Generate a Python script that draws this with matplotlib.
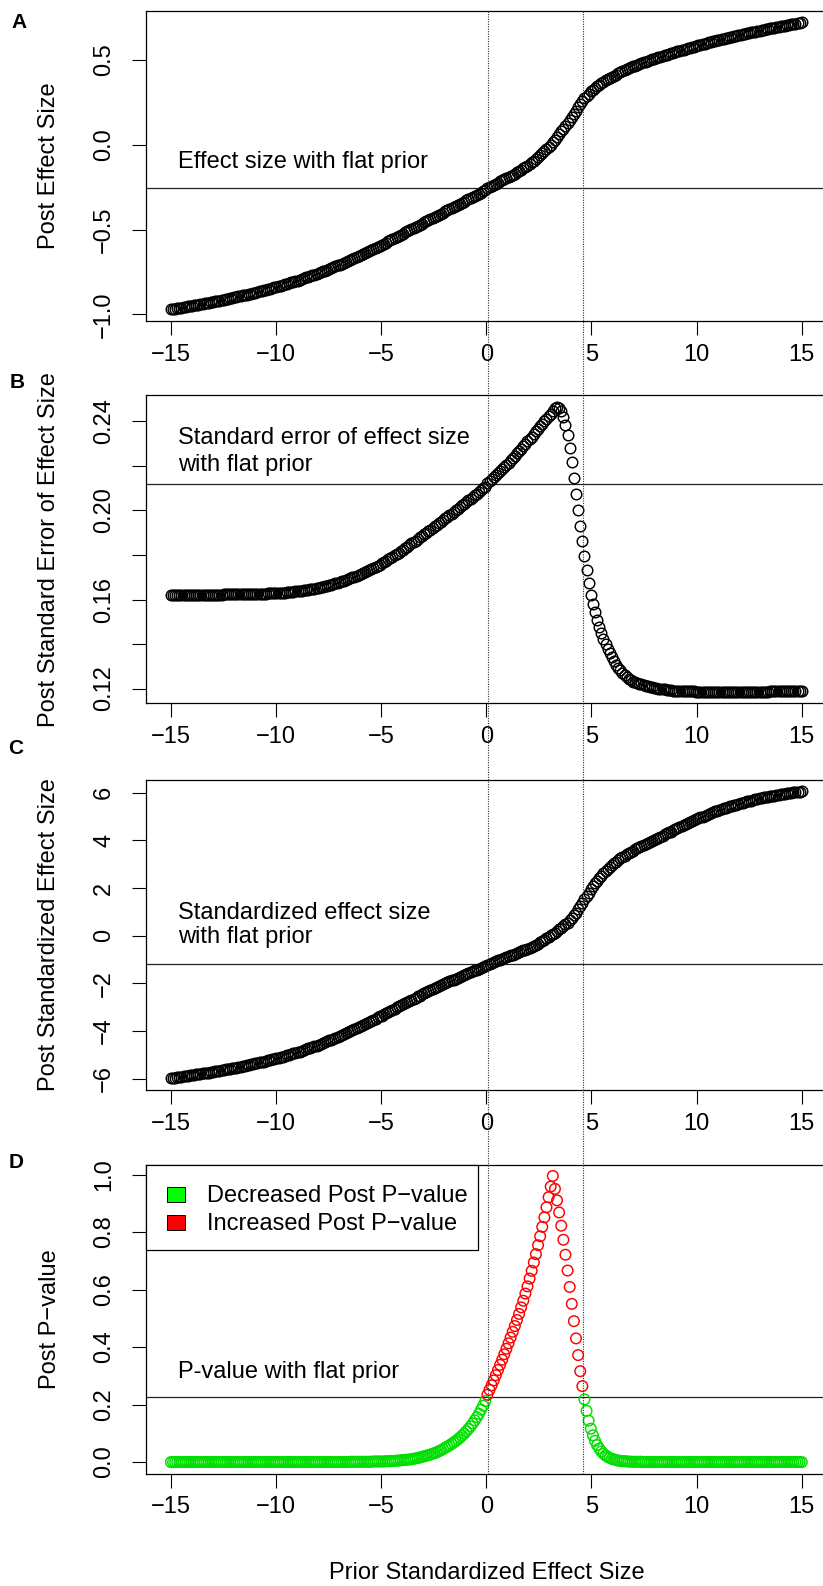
import matplotlib.pyplot as plt
import numpy as np
from matplotlib import transforms
from matplotlib.lines import Line2D
from matplotlib.patches import Rectangle

plt.rcParams['font.family'] = ['Liberation Sans', 'DejaVu Sans']

# prior standardized effect size: 300 points from -15 to 15
prior_z = np.linspace(-15, 15, 300)

# values, one row per unit of prior
post_effect = [
    -0.970, -0.968, -0.966, -0.964, -0.962, -0.960, -0.957, -0.955, -0.953, -0.951,
    -0.949, -0.947, -0.944, -0.942, -0.940, -0.938, -0.935, -0.933, -0.931, -0.928,
    -0.926, -0.923, -0.921, -0.918, -0.916, -0.913, -0.910, -0.908, -0.905, -0.903,
    -0.900, -0.897, -0.894, -0.891, -0.888, -0.886, -0.883, -0.880, -0.877, -0.874,
    -0.871, -0.868, -0.864, -0.861, -0.858, -0.855, -0.851, -0.848, -0.845, -0.841,
    -0.838, -0.834, -0.830, -0.827, -0.823, -0.819, -0.815, -0.811, -0.808, -0.804,
    -0.800, -0.796, -0.791, -0.787, -0.782, -0.778, -0.774, -0.769, -0.765, -0.760,
    -0.756, -0.751, -0.746, -0.741, -0.736, -0.731, -0.726, -0.721, -0.716, -0.711,
    -0.706, -0.700, -0.695, -0.689, -0.684, -0.678, -0.672, -0.667, -0.661, -0.656,
    -0.650, -0.644, -0.638, -0.632, -0.626, -0.620, -0.613, -0.607, -0.601, -0.595,
    -0.589, -0.582, -0.576, -0.569, -0.563, -0.556, -0.549, -0.543, -0.536, -0.530,
    -0.523, -0.516, -0.510, -0.503, -0.497, -0.490, -0.483, -0.477, -0.470, -0.464,
    -0.457, -0.451, -0.444, -0.438, -0.431, -0.425, -0.418, -0.412, -0.405, -0.399,
    -0.392, -0.386, -0.379, -0.373, -0.366, -0.360, -0.353, -0.347, -0.340, -0.334,
    -0.327, -0.321, -0.314, -0.308, -0.301, -0.295, -0.288, -0.282, -0.275, -0.269,
    -0.255, -0.249, -0.242, -0.236, -0.229, -0.222, -0.216, -0.209, -0.203,
    -0.196, -0.190, -0.183, -0.176, -0.169, -0.162, -0.154, -0.147, -0.139, -0.130,
    -0.122, -0.113, -0.103, -0.094, -0.084, -0.073, -0.062, -0.050, -0.038, -0.026,
    -0.013, 0.001, 0.016, 0.031, 0.047, 0.063, 0.079, 0.095, 0.112, 0.129,
    0.146, 0.164, 0.183, 0.202, 0.221, 0.240, 0.258, 0.275, 0.290, 0.303,
    0.315, 0.326, 0.336, 0.346, 0.355, 0.364, 0.372, 0.380, 0.387, 0.394,
    0.401, 0.408, 0.415, 0.422, 0.428, 0.434, 0.440, 0.446, 0.452, 0.458,
    0.463, 0.468, 0.472, 0.477, 0.481, 0.486, 0.490, 0.495, 0.499, 0.504,
    0.508, 0.512, 0.516, 0.520, 0.524, 0.528, 0.532, 0.535, 0.539, 0.543,
    0.547, 0.551, 0.554, 0.558, 0.562, 0.566, 0.569, 0.573, 0.577, 0.580,
    0.584, 0.587, 0.591, 0.594, 0.597, 0.601, 0.604, 0.607, 0.610, 0.614,
    0.617, 0.620, 0.623, 0.626, 0.629, 0.632, 0.634, 0.637, 0.640, 0.643,
    0.646, 0.649, 0.652, 0.654, 0.657, 0.660, 0.663, 0.666, 0.668, 0.671,
    0.674, 0.677, 0.679, 0.682, 0.684, 0.687, 0.689, 0.692, 0.694, 0.697,
    0.699, 0.701, 0.704, 0.706, 0.708, 0.711, 0.713, 0.715, 0.717, 0.720,
    0.722,
]

post_se = [
    0.1621, 0.1621, 0.1621, 0.1621, 0.1621, 0.1621, 0.1621, 0.1621, 0.1621, 0.1621,
    0.1621, 0.1621, 0.1621, 0.1621, 0.1621, 0.1622, 0.1622, 0.1622, 0.1622, 0.1622,
    0.1622, 0.1622, 0.1622, 0.1622, 0.1622, 0.1623, 0.1623, 0.1623, 0.1623, 0.1623,
    0.1623, 0.1623, 0.1623, 0.1624, 0.1624, 0.1624, 0.1624, 0.1624, 0.1625, 0.1625,
    0.1625, 0.1625, 0.1626, 0.1626, 0.1626, 0.1626, 0.1627, 0.1627, 0.1627, 0.1628,
    0.1628, 0.1629, 0.1629, 0.1630, 0.1631, 0.1632, 0.1633, 0.1634, 0.1635, 0.1636,
    0.1637, 0.1638, 0.1640, 0.1641, 0.1643, 0.1644, 0.1646, 0.1648, 0.1649, 0.1651,
    0.1653, 0.1655, 0.1657, 0.1660, 0.1662, 0.1665, 0.1667, 0.1670, 0.1672, 0.1675,
    0.1678, 0.1681, 0.1685, 0.1688, 0.1692, 0.1695, 0.1699, 0.1703, 0.1706, 0.1710,
    0.1714, 0.1718, 0.1723, 0.1728, 0.1733, 0.1738, 0.1743, 0.1748, 0.1752, 0.1757,
    0.1762, 0.1768, 0.1774, 0.1780, 0.1786, 0.1793, 0.1799, 0.1805, 0.1811, 0.1818,
    0.1824, 0.1831, 0.1838, 0.1845, 0.1852, 0.1858, 0.1865, 0.1872, 0.1879, 0.1886,
    0.1893, 0.1900, 0.1907, 0.1914, 0.1921, 0.1928, 0.1936, 0.1943, 0.1950, 0.1957,
    0.1964, 0.1971, 0.1979, 0.1986, 0.1994, 0.2001, 0.2008, 0.2016, 0.2023, 0.2031,
    0.2038, 0.2046, 0.2053, 0.2061, 0.2068, 0.2076, 0.2084, 0.2091, 0.2099, 0.2106,
    0.2123, 0.2132, 0.2141, 0.2149, 0.2158, 0.2167, 0.2177, 0.2186, 0.2196,
    0.2205, 0.2215, 0.2225, 0.2236, 0.2246, 0.2256, 0.2267, 0.2278, 0.2288, 0.2299,
    0.2310, 0.2321, 0.2332, 0.2344, 0.2355, 0.2366, 0.2378, 0.2389, 0.2401, 0.2412,
    0.2424, 0.2435, 0.2447, 0.2458, 0.2466, 0.2461, 0.2445, 0.2418, 0.2382, 0.2337,
    0.2282, 0.2218, 0.2148, 0.2076, 0.2004, 0.1932, 0.1862, 0.1795, 0.1732, 0.1674,
    0.1622, 0.1580, 0.1543, 0.1509, 0.1478, 0.1450, 0.1424, 0.1400, 0.1378, 0.1358,
    0.1340, 0.1323, 0.1308, 0.1294, 0.1282, 0.1271, 0.1261, 0.1252, 0.1244, 0.1237,
    0.1231, 0.1228, 0.1225, 0.1222, 0.1219, 0.1216, 0.1213, 0.1210, 0.1207, 0.1205,
    0.1202, 0.1201, 0.1199, 0.1198, 0.1197, 0.1196, 0.1195, 0.1193, 0.1192, 0.1191,
    0.1190, 0.1190, 0.1189, 0.1189, 0.1189, 0.1188, 0.1188, 0.1187, 0.1187, 0.1187,
    0.1186, 0.1186, 0.1186, 0.1186, 0.1186, 0.1186, 0.1186, 0.1185, 0.1185, 0.1185,
    0.1185, 0.1185, 0.1185, 0.1185, 0.1185, 0.1185, 0.1185, 0.1185, 0.1185, 0.1185,
    0.1185, 0.1185, 0.1185, 0.1185, 0.1185, 0.1186, 0.1186, 0.1186, 0.1186, 0.1186,
    0.1186, 0.1186, 0.1186, 0.1186, 0.1186, 0.1187, 0.1187, 0.1187, 0.1187, 0.1187,
    0.1187, 0.1187, 0.1187, 0.1187, 0.1187, 0.1188, 0.1188, 0.1188, 0.1188, 0.1188,
    0.1188,
]

post_z = [
    -5.98, -5.97, -5.95, -5.94, -5.93, -5.92, -5.90, -5.89, -5.88, -5.86,
    -5.85, -5.84, -5.82, -5.81, -5.79, -5.78, -5.77, -5.75, -5.74, -5.72,
    -5.71, -5.69, -5.68, -5.66, -5.64, -5.63, -5.61, -5.59, -5.58, -5.56,
    -5.55, -5.53, -5.51, -5.49, -5.47, -5.45, -5.43, -5.42, -5.40, -5.38,
    -5.36, -5.34, -5.32, -5.30, -5.28, -5.26, -5.23, -5.21, -5.19, -5.17,
    -5.15, -5.12, -5.10, -5.07, -5.05, -5.02, -4.99, -4.97, -4.94, -4.92,
    -4.89, -4.86, -4.83, -4.80, -4.76, -4.73, -4.70, -4.67, -4.64, -4.61,
    -4.58, -4.54, -4.50, -4.47, -4.43, -4.39, -4.36, -4.32, -4.28, -4.25,
    -4.21, -4.17, -4.13, -4.08, -4.04, -4.00, -3.96, -3.92, -3.87, -3.83,
    -3.79, -3.75, -3.70, -3.66, -3.61, -3.57, -3.52, -3.48, -3.43, -3.39,
    -3.35, -3.30, -3.25, -3.20, -3.16, -3.11, -3.06, -3.01, -2.97, -2.92,
    -2.87, -2.82, -2.78, -2.73, -2.69, -2.64, -2.60, -2.55, -2.51, -2.46,
    -2.42, -2.37, -2.33, -2.29, -2.25, -2.21, -2.17, -2.12, -2.08, -2.04,
    -2.00, -1.96, -1.92, -1.88, -1.84, -1.80, -1.76, -1.72, -1.68, -1.64,
    -1.61, -1.57, -1.53, -1.50, -1.46, -1.42, -1.39, -1.35, -1.31, -1.28,
    -1.21, -1.17, -1.14, -1.10, -1.07, -1.03, -1.00, -0.96, -0.93,
    -0.89, -0.86, -0.82, -0.79, -0.75, -0.72, -0.68, -0.65, -0.61, -0.58,
    -0.55, -0.51, -0.47, -0.43, -0.38, -0.33, -0.28, -0.23, -0.18, -0.11,
    -0.05, 0.01, 0.07, 0.13, 0.20, 0.26, 0.33, 0.40, 0.47, 0.55,
    0.64, 0.74, 0.85, 0.97, 1.10, 1.24, 1.39, 1.53, 1.67, 1.81,
    1.95, 2.07, 2.19, 2.30, 2.41, 2.52, 2.62, 2.71, 2.80, 2.89,
    2.97, 3.04, 3.11, 3.18, 3.24, 3.30, 3.36, 3.41, 3.47, 3.52,
    3.57, 3.62, 3.66, 3.71, 3.75, 3.80, 3.84, 3.89, 3.93, 3.98,
    4.02, 4.07, 4.11, 4.16, 4.20, 4.25, 4.29, 4.33, 4.37, 4.42,
    4.46, 4.50, 4.54, 4.59, 4.63, 4.67, 4.71, 4.75, 4.80, 4.84,
    4.88, 4.92, 4.96, 4.99, 5.03, 5.07, 5.10, 5.14, 5.17, 5.21,
    5.24, 5.27, 5.31, 5.34, 5.37, 5.40, 5.43, 5.45, 5.48, 5.50,
    5.53, 5.55, 5.58, 5.60, 5.63, 5.65, 5.67, 5.69, 5.72, 5.74,
    5.76, 5.78, 5.80, 5.81, 5.83, 5.85, 5.87, 5.88, 5.90, 5.91,
    5.93, 5.94, 5.96, 5.97, 5.99, 6.00, 6.01, 6.02, 6.03, 6.04,
    6.05,
]

post_p = [
    0.000, 0.000, 0.000, 0.000, 0.000, 0.000, 0.000, 0.000, 0.000, 0.000,
    0.000, 0.000, 0.000, 0.000, 0.000, 0.000, 0.000, 0.000, 0.000, 0.000,
    0.000, 0.000, 0.000, 0.000, 0.000, 0.000, 0.000, 0.000, 0.000, 0.000,
    0.000, 0.000, 0.000, 0.000, 0.000, 0.000, 0.000, 0.000, 0.000, 0.000,
    0.000, 0.000, 0.000, 0.000, 0.000, 0.000, 0.000, 0.000, 0.000, 0.000,
    0.000, 0.000, 0.000, 0.000, 0.000, 0.000, 0.000, 0.000, 0.000, 0.000,
    0.000, 0.000, 0.000, 0.000, 0.000, 0.000, 0.000, 0.000, 0.000, 0.000,
    0.000, 0.000, 0.000, 0.000, 0.000, 0.000, 0.000, 0.000, 0.000, 0.000,
    0.000, 0.000, 0.000, 0.000, 0.000, 0.001, 0.001, 0.001, 0.001, 0.001,
    0.001, 0.001, 0.001, 0.001, 0.001, 0.001, 0.002, 0.002, 0.002, 0.002,
    0.002, 0.002, 0.003, 0.003, 0.003, 0.004, 0.004, 0.005, 0.005, 0.006,
    0.007, 0.008, 0.008, 0.009, 0.010, 0.011, 0.013, 0.014, 0.016, 0.018,
    0.020, 0.022, 0.024, 0.026, 0.029, 0.031, 0.034, 0.038, 0.041, 0.045,
    0.050, 0.054, 0.058, 0.063, 0.068, 0.073, 0.079, 0.085, 0.092, 0.099,
    0.107, 0.115, 0.124, 0.134, 0.145, 0.156, 0.168, 0.182, 0.196, 0.212,
    0.234, 0.251, 0.267, 0.284, 0.302, 0.320, 0.338, 0.356, 0.375,
    0.394, 0.413, 0.433, 0.453, 0.473, 0.494, 0.515, 0.538, 0.561, 0.586,
    0.611, 0.638, 0.665, 0.694, 0.723, 0.754, 0.785, 0.818, 0.851, 0.886,
    0.921, 0.958, 0.995, 0.950, 0.910, 0.868, 0.822, 0.773, 0.721, 0.666,
    0.609, 0.550, 0.490, 0.430, 0.372, 0.316, 0.264, 0.218, 0.178, 0.144,
    0.116, 0.093, 0.074, 0.059, 0.047, 0.037, 0.029, 0.023, 0.018, 0.014,
    0.011, 0.009, 0.007, 0.005, 0.004, 0.003, 0.003, 0.002, 0.002, 0.001,
    0.001, 0.001, 0.001, 0.001, 0.001, 0.000, 0.000, 0.000, 0.000, 0.000,
    0.000, 0.000, 0.000, 0.000, 0.000, 0.000, 0.000, 0.000, 0.000, 0.000,
    0.000, 0.000, 0.000, 0.000, 0.000, 0.000, 0.000, 0.000, 0.000, 0.000,
    0.000, 0.000, 0.000, 0.000, 0.000, 0.000, 0.000, 0.000, 0.000, 0.000,
    0.000, 0.000, 0.000, 0.000, 0.000, 0.000, 0.000, 0.000, 0.000, 0.000,
    0.000, 0.000, 0.000, 0.000, 0.000, 0.000, 0.000, 0.000, 0.000, 0.000,
    0.000, 0.000, 0.000, 0.000, 0.000, 0.000, 0.000, 0.000, 0.000, 0.000,
    0.000, 0.000, 0.000, 0.000, 0.000, 0.000, 0.000, 0.000, 0.000, 0.000,
    0.000,
]

# values obtained with a flat prior
flat_effect = -0.255
flat_se = 0.212
flat_z = -1.20
flat_p = 0.226
# priors where the post p-value equals the flat-prior p-value
cross_priors = [0.1, 4.58]

x_ticks = [-15, -10, -5, 0, 5, 10, 15]
x_tick_labels = ['\u221215', '\u221210', '\u22125', '0', '5', '10', '15']

W, H = 823, 1586
LEFT, RIGHT = 145.7, 827.0
FS = 17
MS, MEW = 7.6, 1.05


def fx(px):
    return px / W


def fy(py):
    return 1 - py / H


def make_axes(top, bottom):
    return fig.add_axes([fx(LEFT), fy(bottom), (RIGHT - LEFT) / W, (bottom - top) / H])


def style_axes(ax, yvals, yticks, ylabels, hline):
    ax.set_xlim(-16.2, 16.2)
    pad = 0.04 * (max(yvals) - min(yvals))
    ax.set_ylim(min(yvals) - pad, max(yvals) + pad)
    ax.set_xticks(x_ticks)
    ax.set_xticklabels(x_tick_labels)
    ax.set_yticks(yticks)
    ax.set_yticklabels(ylabels, rotation=90, va='center')
    ax.tick_params(direction='out', length=10, width=0.8, labelsize=FS, color='black')
    ax.tick_params(axis='x', pad=6.5)
    ax.tick_params(axis='y', pad=12)
    for sp in ax.spines.values():
        sp.set_linewidth(0.9)
    ax.axhline(hline, color='#222222', lw=0.9, zorder=1)


fig = plt.figure(figsize=(W / 100, H / 100), dpi=100)

panels = [
    # top, bottom, values, flat, yticks, ylabels, ylabel, notes (text, baseline)
    (11, 320.8, post_effect, flat_effect,
     [-1.0, -0.5, 0.0, 0.5], ['\u22121.0', '\u22120.5', '0.0', '0.5'],
     'Post Effect Size', [('Effect size with flat prior', -0.139)]),
    (395.3, 703.3, post_se, flat_se,
     [0.12, 0.14, 0.16, 0.18, 0.20, 0.22, 0.24], ['0.12', '', '0.16', '', '0.20', '', '0.24'],
     'Post Standard Error of Effect Size',
     [('Standard error of effect size', 0.2300), ('with flat prior', 0.2175)]),
    (780, 1089.7, post_z, flat_z,
     [-6, -4, -2, 0, 2, 4, 6], ['\u22126', '\u22124', '\u22122', '0', '2', '4', '6'],
     'Post Standardized Effect Size',
     [('Standardized effect size', 0.68), ('with flat prior', -0.30)]),
    (1164.5, 1473.5, post_p, flat_p,
     [0.0, 0.2, 0.4, 0.6, 0.8, 1.0], ['0.0', '0.2', '0.4', '0.6', '0.8', '1.0'],
     'Post P\u2212value', [('P-value with flat prior', 0.292)]),
]

axes = []
for i, (top, bottom, vals, flat, yt, yl, ylab, notes) in enumerate(panels):
    ax = make_axes(top, bottom)
    style_axes(ax, vals, yt, yl, flat)
    if i < 3:
        ax.plot(prior_z, vals, ls='none', marker='o', ms=MS, mfc='none',
                mec='black', mew=MEW, zorder=2)
    else:
        cols = np.where(np.array(vals) > flat, '#FF0000', '#00DD00')
        ax.scatter(prior_z, vals, s=MS ** 2, facecolors='none', edgecolors=cols,
                   linewidths=MEW, zorder=2)
    for txt, yb in notes:
        ax.text(-14.65, yb, txt, ha='left', va='baseline', fontsize=FS)
    fig.text(fx(49.5), fy((top + bottom) / 2), ylab, rotation=90,
             ha='center', va='center', fontsize=FS)
    axes.append(ax)

# panel letters
for letter, (lx, ly) in zip('ABCD', [(19, 22), (17, 383), (16, 748), (16, 1163)]):
    fig.text(fx(lx), fy(ly), letter, ha='center', va='center',
             fontsize=15, fontweight='bold')

fig.text(fx(487), fy(1579), 'Prior Standardized Effect Size', ha='center',
         va='baseline', fontsize=FS)

# dotted vertical lines running through all four panels
trans = transforms.blended_transform_factory(axes[3].transData, fig.transFigure)
for xv in cross_priors:
    fig.add_artist(Line2D([xv, xv], [fy(1473.5), fy(11)], transform=trans,
                          ls=(0, (1, 1.2)), lw=0.8, color='#333333', zorder=6))

# legend box in panel D (top left corner)
fig.add_artist(Rectangle((fx(146), fy(1250)), (478 - 146) / W, (1250 - 1165) / H,
                         transform=fig.transFigure, fc='white', ec='black', lw=0.9, zorder=5))
for (col, lab), base in zip([('#00FF00', 'Decreased Post P\u2212value'),
                             ('#FF0000', 'Increased Post P\u2212value')], [1201.7, 1230]):
    fig.add_artist(Rectangle((fx(167.3), fy(base)), 17.7 / W, 15 / H,
                             transform=fig.transFigure, fc=col, ec='black', lw=0.7, zorder=6))
    fig.text(fx(206.7), fy(base), lab, ha='left', va='baseline', fontsize=FS, zorder=7)

fig.savefig('out.png', dpi=100)
